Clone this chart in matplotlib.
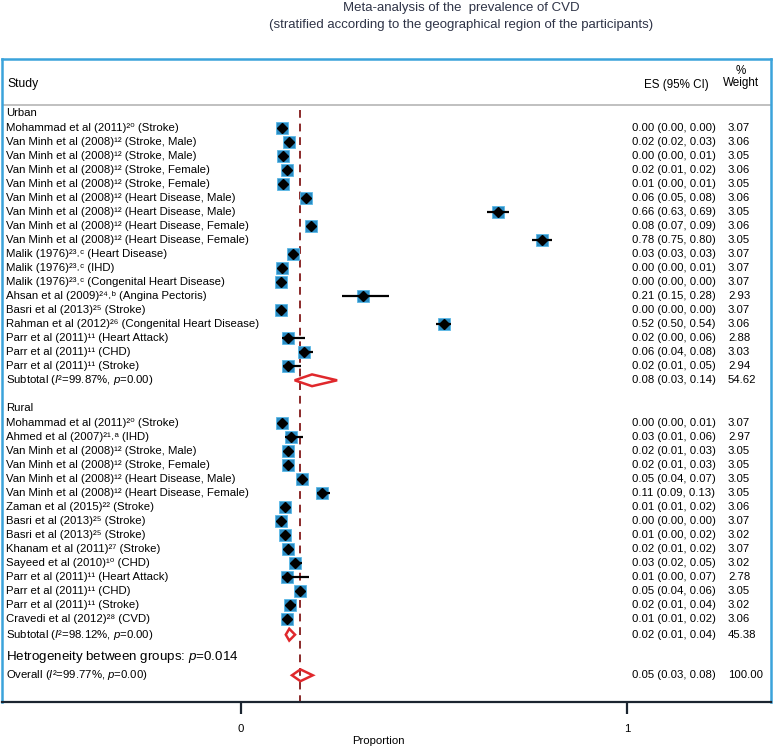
import matplotlib
matplotlib.use("Agg")
import matplotlib.pyplot as plt
from matplotlib.patches import Polygon

plt.rcParams['font.family'] = ['Liberation Sans', 'DejaVu Sans']
plt.rcParams['mathtext.fontset'] = 'custom'
plt.rcParams['mathtext.rm'] = 'Liberation Sans'
plt.rcParams['mathtext.it'] = 'Liberation Sans:italic'
plt.rcParams['mathtext.bf'] = 'Liberation Sans:bold'

# ---- data ----
urban_labels = [
    "Mohammad et al (2011)²⁰ (Stroke)",
    "Van Minh et al (2008)¹² (Stroke, Male)",
    "Van Minh et al (2008)¹² (Stroke, Male)",
    "Van Minh et al (2008)¹² (Stroke, Female)",
    "Van Minh et al (2008)¹² (Stroke, Female)",
    "Van Minh et al (2008)¹² (Heart Disease, Male)",
    "Van Minh et al (2008)¹² (Heart Disease, Male)",
    "Van Minh et al (2008)¹² (Heart Disease, Female)",
    "Van Minh et al (2008)¹² (Heart Disease, Female)",
    "Malik (1976)²³˒ᶜ (Heart Disease)",
    "Malik (1976)²³˒ᶜ (IHD)",
    "Malik (1976)²³˒ᶜ (Congenital Heart Disease)",
    "Ahsan et al (2009)²⁴˒ᵇ (Angina Pectoris)",
    "Basri et al (2013)²⁵ (Stroke)",
    "Rahman et al (2012)²⁶ (Congenital Heart Disease)",
    "Parr et al (2011)¹¹ (Heart Attack)",
    "Parr et al (2011)¹¹ (CHD)",
    "Parr et al (2011)¹¹ (Stroke)",
]
urban_es = [0.00, 0.02, 0.00, 0.02, 0.01, 0.06, 0.66, 0.08, 0.78, 0.03, 0.00, 0.00, 0.21, 0.00, 0.52, 0.02, 0.06, 0.02]
urban_lo = [0.00, 0.02, 0.00, 0.01, 0.00, 0.05, 0.63, 0.07, 0.75, 0.03, 0.00, 0.00, 0.15, 0.00, 0.50, 0.00, 0.04, 0.01]
urban_hi = [0.00, 0.03, 0.01, 0.02, 0.01, 0.08, 0.69, 0.09, 0.80, 0.03, 0.01, 0.00, 0.28, 0.00, 0.54, 0.06, 0.08, 0.05]
urban_w = [3.07, 3.06, 3.05, 3.06, 3.05, 3.06, 3.05, 3.06, 3.05, 3.07, 3.07, 3.07, 2.93, 3.07, 3.06, 2.88, 3.03, 2.94]
# positions of the marks as drawn in the figure
urban_pos = [0.105, 0.124, 0.108, 0.119, 0.110, 0.168, 0.665, 0.182, 0.780, 0.136, 0.106, 0.104, 0.315, 0.103, 0.525, 0.121, 0.162, 0.121]
urban_pos_lo = [0.105, 0.124, 0.108, 0.117, 0.108, 0.165, 0.637, 0.180, 0.754, 0.136, 0.106, 0.104, 0.261, 0.103, 0.505, 0.105, 0.149, 0.108]
urban_pos_hi = [0.105, 0.127, 0.110, 0.120, 0.110, 0.172, 0.694, 0.184, 0.806, 0.136, 0.108, 0.104, 0.384, 0.103, 0.545, 0.166, 0.187, 0.156]

rural_labels = [
    "Mohammad et al (2011)²⁰ (Stroke)",
    "Ahmed et al (2007)²¹˒ᵃ (IHD)",
    "Van Minh et al (2008)¹² (Stroke, Male)",
    "Van Minh et al (2008)¹² (Stroke, Female)",
    "Van Minh et al (2008)¹² (Heart Disease, Male)",
    "Van Minh et al (2008)¹² (Heart Disease, Female)",
    "Zaman et al (2015)²² (Stroke)",
    "Basri et al (2013)²⁵ (Stroke)",
    "Basri et al (2013)²⁵ (Stroke)",
    "Khanam et al (2011)²⁷ (Stroke)",
    "Sayeed et al (2010)¹⁰ (CHD)",
    "Parr et al (2011)¹¹ (Heart Attack)",
    "Parr et al (2011)¹¹ (CHD)",
    "Parr et al (2011)¹¹ (Stroke)",
    "Cravedi et al (2012)²⁸ (CVD)",
]
rural_es = [0.00, 0.03, 0.02, 0.02, 0.05, 0.11, 0.01, 0.00, 0.01, 0.02, 0.03, 0.01, 0.05, 0.02, 0.01]
rural_lo = [0.00, 0.01, 0.01, 0.01, 0.04, 0.09, 0.01, 0.00, 0.00, 0.01, 0.02, 0.00, 0.04, 0.01, 0.01]
rural_hi = [0.01, 0.06, 0.03, 0.03, 0.07, 0.13, 0.02, 0.00, 0.02, 0.02, 0.05, 0.07, 0.06, 0.04, 0.02]
rural_w = [3.07, 2.97, 3.05, 3.05, 3.05, 3.05, 3.06, 3.07, 3.02, 3.07, 3.02, 2.78, 3.05, 3.02, 3.06]
rural_pos = [0.105, 0.130, 0.121, 0.123, 0.158, 0.210, 0.113, 0.104, 0.113, 0.123, 0.139, 0.118, 0.152, 0.126, 0.118]
rural_pos_lo = [0.105, 0.113, 0.118, 0.120, 0.155, 0.197, 0.112, 0.104, 0.110, 0.122, 0.130, 0.105, 0.150, 0.117, 0.117]
rural_pos_hi = [0.106, 0.160, 0.124, 0.125, 0.162, 0.231, 0.115, 0.104, 0.116, 0.124, 0.158, 0.176, 0.154, 0.142, 0.120]

# pooled estimates: (es, lo, hi, weight) and drawn diamond (centre, left, right)
urban_sub = (0.08, 0.03, 0.14, 54.62)
rural_sub = (0.02, 0.01, 0.04, 45.38)
overall = (0.05, 0.03, 0.08, 100.00)
urban_sub_pos = (0.184, 0.139, 0.249)
rural_sub_pos = (0.125, 0.116, 0.140)
overall_pos = (0.154, 0.132, 0.186)

urban_i2 = "99.87%"
rural_i2 = "98.12%"
overall_i2 = "99.77%"
het_p = "0.014"

# ---- figure ----
W, H = 774, 746
fig = plt.figure(figsize=(W / 100, H / 100), dpi=100)
ax = fig.add_axes([2 / W, 44 / H, 769 / W, 643 / H])

row_px = 14.0
first_px = 128.3
ax.set_ylim((702 - first_px) / row_px, (59 - first_px) / row_px)
ax.set_xlim((2 - 241) / 386, (771 - 241) / 386)

box_c = '#3ba3db'
for s in ['left', 'right', 'top']:
    ax.spines[s].set_color(box_c)
    ax.spines[s].set_linewidth(1.8)
ax.spines['bottom'].set_color('#1b2530')
ax.spines['bottom'].set_linewidth(1.6)
ax.set_yticks([])
ax.set_xticks([0, 1])
ax.set_xticklabels(['0', '1'])
ax.tick_params(axis='x', direction='out', length=8.5, width=1.6, pad=7,
               labelsize=8.2, color='#1b2530')
ax.set_xlabel("Proportion", fontsize=8.2, va='top')
ax.xaxis.set_label_coords((378 - 2) / 769, -(736 - 702) / 643)

tr = ax.get_yaxis_transform()
x_lab = 4 / 769
x_es = (632 - 2) / 769
x_w = (728 - 2) / 769
fs = 8.2
sq_c = '#2b8cc4'


def ci_text(es, lo, hi):
    return f"{es:.2f} ({lo:.2f}, {hi:.2f})"


def draw_study(r, label, es, lo, hi, w, p, plo, phi):
    ax.text(x_lab, r, label, transform=tr, fontsize=fs, va='center', ha='left')
    ax.text(x_es, r, ci_text(es, lo, hi), transform=tr, fontsize=fs, va='center', ha='left')
    ax.text(x_w, r, f"{w:.2f}", transform=tr, fontsize=fs, va='center', ha='left')
    ms = 8.4 * (w / 3.07) ** 0.5
    ax.plot([p], [r], marker='s', ms=ms, color=sq_c, mec='#5ab8e6', mew=0.6, zorder=3)
    ax.plot([plo, phi], [r, r], color='black', lw=1.6, zorder=4, solid_capstyle='butt')
    ax.plot([p], [r], marker='D', ms=5.2, color='black', zorder=5)


def draw_diamond(r, c, left, right, h=0.42):
    d = Polygon([[left, r], [c, r - h], [right, r], [c, r + h]], closed=True,
                fill=False, edgecolor='#e0282c', lw=1.8, zorder=4)
    ax.add_patch(d)


def draw_pooled(r, label, vals, pos):
    ax.text(x_lab, r, label, transform=tr, fontsize=fs, va='center', ha='left')
    ax.text(x_es, r, ci_text(*vals[:3]), transform=tr, fontsize=fs, va='center', ha='left')
    ax.text(x_w, r, f"{vals[3]:.2f}", transform=tr, fontsize=fs, va='center', ha='left')
    draw_diamond(r, *pos)


# header
ax.text(x_lab + 0.002, -3.16, "Study", transform=tr, fontsize=8.7, va='center', ha='left')
ax.text((709 - 2) / 769, -3.09, "ES (95% CI)", transform=tr, fontsize=8.4, va='center', ha='right')
ax.text((741 - 2) / 769, -4.11, "%", transform=tr, fontsize=8.4, va='center', ha='center')
ax.text((741 - 2) / 769, -3.24, "Weight", transform=tr, fontsize=8.4, va='center', ha='center')
ax.axhline(-1.65, color='#b5b5b5', lw=1.2)

# overall line
ax.vlines(0.153, -1.3, ax.get_ylim()[0], colors='#8b2a2a', linestyles=(0, (4, 3)), lw=1.4, zorder=2)

# urban
ax.text(x_lab, -1.09, "Urban", transform=tr, fontsize=fs, va='center', ha='left')
for i in range(len(urban_labels)):
    draw_study(i, urban_labels[i], urban_es[i], urban_lo[i], urban_hi[i], urban_w[i],
               urban_pos[i], urban_pos_lo[i], urban_pos_hi[i])
draw_pooled(len(urban_labels), f"Subtotal ($I$²={urban_i2}, $p$=0.00)", urban_sub, urban_sub_pos)

# rural
r0 = len(urban_labels) + 3.05
ax.text(x_lab, r0 - 1.1, "Rural", transform=tr, fontsize=fs, va='center', ha='left')
for i in range(len(rural_labels)):
    draw_study(r0 + i, rural_labels[i], rural_es[i], rural_lo[i], rural_hi[i], rural_w[i],
               rural_pos[i], rural_pos_lo[i], rural_pos_hi[i])
r_sub = r0 + len(rural_labels) + 0.12
draw_pooled(r_sub, f"Subtotal ($I$²={rural_i2}, $p$=0.00)", rural_sub, rural_sub_pos)

ax.text(x_lab, r_sub + 1.6, f"Hetrogeneity between groups: $p$={het_p}", transform=tr,
        fontsize=9.6, va='center', ha='left')
draw_pooled(r_sub + 2.9, f"Overall ($I$²={overall_i2}, $p$=0.00)", overall, overall_pos)

# title
title_c = '#2f3447'
fig.text(461 / W, 1 - 8 / H, "Meta-analysis of the  prevalence of CVD",
         family=['Liberation Sans Narrow', 'Liberation Sans'], fontsize=9.5,
         color=title_c, ha='center', va='center')
fig.text(461 / W, 1 - 25 / H, "(stratified according to the geographical region of the participants)",
         family=['Liberation Sans Narrow', 'Liberation Sans'], fontsize=9.5,
         color=title_c, ha='center', va='center')

fig.savefig("out.png", dpi=100)
